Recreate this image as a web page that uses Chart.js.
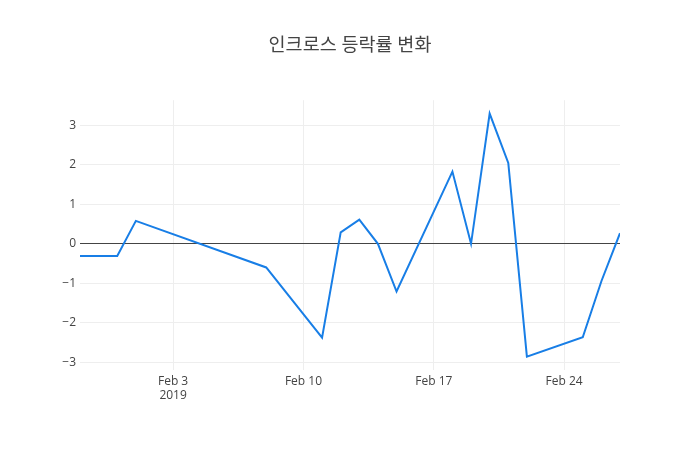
<!DOCTYPE html>
<html>
<head>
<meta charset="utf-8">
<script src="https://cdn.jsdelivr.net/npm/chart.js@4"></script>
<style>
  html, body { margin: 0; padding: 0; background: #fff; }
  #wrap { width: 700px; height: 450px; }
</style>
</head>
<body>
<div id="wrap"><canvas id="rateChart"></canvas></div>
<script>
const dates = ["2019-01-29", "2019-01-30", "2019-01-31", "2019-02-01", "2019-02-08",
  "2019-02-11", "2019-02-12", "2019-02-13", "2019-02-14", "2019-02-15",
  "2019-02-18", "2019-02-19", "2019-02-20", "2019-02-21", "2019-02-22",
  "2019-02-25", "2019-02-26", "2019-02-27"];
const changes = [-0.31, -0.31, -0.31, 0.58, -0.60,
  -2.38, 0.29, 0.61, 0.0, -1.21,
  1.83, 0.0, 3.30, 2.05, -2.86,
  -2.37, -0.95, 0.27];
const xTickDates = ["2019-02-03", "2019-02-10", "2019-02-17", "2019-02-24"];
const yTicks = [-3, -2, -1, 0, 1, 2, 3];
const months = ["Jan", "Feb", "Mar", "Apr", "May", "Jun", "Jul", "Aug", "Sep", "Oct", "Nov", "Dec"];

const DAY = 86400000;
const toDay = (s) => {
  const [y, m, d] = s.split("-").map(Number);
  return Date.UTC(y, m - 1, d) / DAY;
};
const dayLabel = (v, first) => {
  const d = new Date(v * DAY);
  const txt = months[d.getUTCMonth()] + " " + d.getUTCDate();
  return first ? [txt, String(d.getUTCFullYear())] : txt;
};

const points = dates.map((d, i) => ({ x: toDay(d), y: changes[i] }));
const xTicks = xTickDates.map(toDay);
const FONT = '"Open Sans", "Noto Sans CJK KR", sans-serif';

new Chart(document.getElementById("rateChart").getContext("2d"), {
  type: "line",
  data: {
    datasets: [{
      data: points,
      borderColor: "rgb(24, 126, 230)",
      borderWidth: 2,
      pointRadius: 0,
      tension: 0,
      fill: false,
    }],
  },
  options: {
    responsive: true,
    maintainAspectRatio: false,
    animation: false,
    layout: { padding: 0 },
    plugins: {
      legend: { display: false },
      tooltip: { enabled: false },
      title: {
        display: true,
        text: "인크로스 등락률 변화",
        color: "#444",
        font: { family: FONT, size: 18.5, weight: "normal" },
        padding: { top: 35, bottom: 43 },
      },
    },
    scales: {
      x: {
        type: "linear",
        min: toDay(dates[0]),
        max: toDay(dates[dates.length - 1]),
        afterBuildTicks: (scale) => {
          scale.ticks = xTicks.map((v) => ({ value: v }));
        },
        afterFit: (scale) => { scale.height = 80; },
        ticks: {
          autoSkip: false,
          maxRotation: 0,
          padding: 4,
          color: "#444",
          font: { family: FONT, size: 12 },
          callback: (v, i) => dayLabel(v, i === 0),
        },
        grid: { color: "#eee", drawTicks: false },
        border: { display: false },
      },
      y: {
        min: -3.2,
        max: 3.64,
        afterBuildTicks: (scale) => {
          scale.ticks = yTicks.map((v) => ({ value: v }));
        },
        afterFit: (scale) => { scale.width = 80; },
        ticks: {
          padding: 4,
          color: "#444",
          font: { family: FONT, size: 12 },
          callback: (v) => (v < 0 ? "\u2212" + Math.abs(v) : String(v)),
        },
        grid: {
          drawTicks: false,
          color: (ctx) => (ctx.tick && ctx.tick.value === 0 ? "#444" : "#eee"),
        },
        border: { display: false },
      },
      // empty right-hand axis, only keeps the right margin so the title stays centred
      yRight: {
        position: "right",
        min: -3.2,
        max: 3.64,
        afterFit: (scale) => { scale.width = 80; },
        ticks: { display: false },
        grid: { display: false },
        border: { display: false },
      },
    },
  },
});
</script>
</body>
</html>
